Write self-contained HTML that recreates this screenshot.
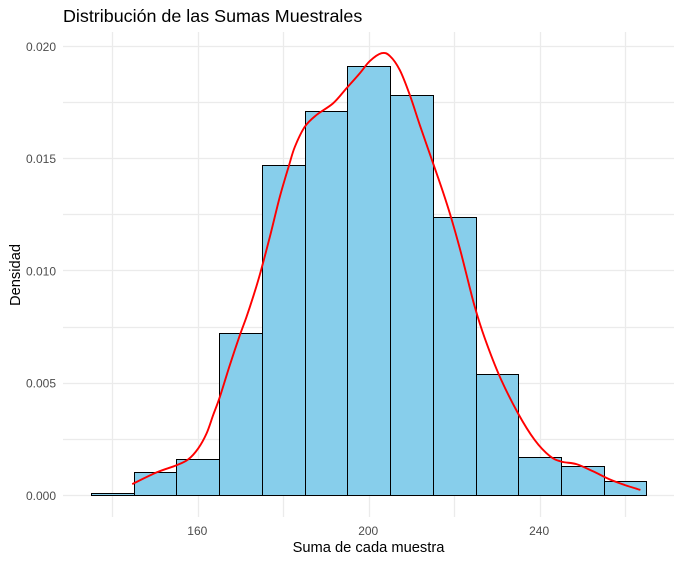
<!DOCTYPE html>
<html lang="es">
<head>
<meta charset="utf-8">
<title>Distribución de las Sumas Muestrales</title>
<style>
html,body{margin:0;padding:0;background:#fff;width:682px;height:562px;overflow:hidden}
svg{display:block}
text{font-family:"Liberation Sans",Arial,sans-serif}
.tick{font-size:12px;fill:#4d4d4d}
.axis-title{font-size:14.7px;fill:#000}
</style>
</head>
<body>
<svg id="chart" xmlns="http://www.w3.org/2000/svg" width="682" height="562" viewBox="0 0 682 562">
  <rect x="0" y="0" width="682" height="562" fill="#ffffff"/>
  <g id="grid"></g>
  <g id="bars"></g>
  <path id="curve" fill="none" stroke="#ff0000" stroke-width="1.9" stroke-linejoin="round" stroke-linecap="butt"/>
  <g id="xticks"></g>
  <g id="yticks"></g>
  <text x="63" y="22" font-size="17.9" fill="#000">Distribución de las Sumas Muestrales</text>
  <text class="axis-title" x="368.5" y="552" text-anchor="middle">Suma de cada muestra</text>
  <text class="axis-title" transform="translate(20,275) rotate(-90)" text-anchor="middle">Densidad</text>
</svg>
<script>
const binCenters = [140, 150, 160, 170, 180, 190, 200, 210, 220, 230, 240, 250, 260];
const binDensity = [0.0001, 0.00102, 0.0016, 0.00722, 0.0147, 0.0171, 0.0191, 0.0178, 0.0124, 0.0054, 0.0017, 0.0013, 0.0006];
const binWidth = 10;
const curveX = [144.54, 150.25, 154.92, 157.64, 159.98, 161.94, 163.49, 165.05, 167.39, 169.73, 171.3, 172.84, 174.41, 176.75, 179.09, 181.26, 182.6, 184.94, 187.67, 191.56, 194.69, 197.8, 200.14, 202.88, 204.82, 207.16, 209.5, 211.84, 214.81, 217.29, 219.25, 221.19, 222.6, 224.7, 227.04, 230.55, 234.83, 238.74, 242.25, 244.98, 248.49, 252.37, 256.28, 259.79, 263.46];
const curveY = [0.0005, 0.00102, 0.00134, 0.0016, 0.00209, 0.00276, 0.00358, 0.00439, 0.00581, 0.00714, 0.00796, 0.00885, 0.00984, 0.01152, 0.01331, 0.01472, 0.01553, 0.01643, 0.01695, 0.01747, 0.01814, 0.01881, 0.01935, 0.0197, 0.01958, 0.01895, 0.01784, 0.0165, 0.01487, 0.0135, 0.01232, 0.01101, 0.00996, 0.0084, 0.007, 0.00529, 0.00365, 0.00246, 0.00175, 0.0015, 0.00139, 0.00107, 0.00071, 0.00046, 0.00024];
const xMajorTicks = [160, 200, 240];
const xMinorTicks = [140, 180, 220, 260];
const yMajorTicks = [0, 0.005, 0.01, 0.015, 0.02];
const yMinorTicks = [0.0025, 0.0075, 0.0125, 0.0175];

const NS = 'http://www.w3.org/2000/svg';
const panel = {left: 63, right: 674, top: 32, bottom: 517};
function xScale(v) { return 198.3 + (v - 160) * 4.273; }
function yScale(v) { return 495.3 - v * 22440; }
function snap(p) { return Math.round(p - 0.5) + 0.5; }
function make(tag, attrs, parent) {
  const el = document.createElementNS(NS, tag);
  for (const k in attrs) el.setAttribute(k, attrs[k]);
  parent.appendChild(el);
  return el;
}

const grid = document.getElementById('grid');
xMinorTicks.concat(xMajorTicks).forEach(function (t) {
  const p = snap(xScale(t));
  const line = make('line', {x1: p, x2: p, y1: panel.top, y2: panel.bottom, stroke: '#ebebeb', 'stroke-width': 1.3}, grid);
  
  
});
yMinorTicks.concat(yMajorTicks).forEach(function (t) {
  const p = snap(yScale(t));
  const line = make('line', {x1: panel.left, x2: panel.right, y1: p, y2: p, stroke: '#ebebeb', 'stroke-width': 1.3}, grid);
  
  
});

const bars = document.getElementById('bars');
binCenters.forEach(function (c, i) {
  const x0 = snap(xScale(c - binWidth / 2));
  const x1 = snap(xScale(c + binWidth / 2));
  const y0 = snap(yScale(binDensity[i]));
  const y1 = snap(yScale(0));
  const rect = make('rect', {x: x0, y: y0, width: x1 - x0, height: y1 - y0, fill: '#87ceeb', stroke: '#000000', 'stroke-width': 1}, bars);
  
  
});

const pts = curveX.map(function (v, i) { return [xScale(v), yScale(curveY[i])]; });
let d = 'M' + pts[0][0].toFixed(2) + ' ' + pts[0][1].toFixed(2);
for (let i = 0; i < pts.length - 1; i++) {
  const p0 = pts[Math.max(i - 1, 0)];
  const p1 = pts[i];
  const p2 = pts[i + 1];
  const p3 = pts[Math.min(i + 2, pts.length - 1)];
  const c1x = p1[0] + (p2[0] - p0[0]) / 6;
  const c1y = p1[1] + (p2[1] - p0[1]) / 6;
  const c2x = p2[0] - (p3[0] - p1[0]) / 6;
  const c2y = p2[1] - (p3[1] - p1[1]) / 6;
  d += 'C' + c1x.toFixed(2) + ' ' + c1y.toFixed(2) + ' ' + c2x.toFixed(2) + ' ' + c2y.toFixed(2) + ' ' + p2[0].toFixed(2) + ' ' + p2[1].toFixed(2);
}
document.getElementById('curve').setAttribute('d', d);

const xticks = document.getElementById('xticks');
xMajorTicks.forEach(function (t) {
  const label = make('text', {class: 'tick', x: xScale(t) - 1, y: 535, 'text-anchor': 'middle'}, xticks);
  
  
  label.textContent = String(t);
});
const yticks = document.getElementById('yticks');
yMajorTicks.forEach(function (t) {
  const label = make('text', {class: 'tick', x: 56, y: yScale(t) + 4.5, 'text-anchor': 'end'}, yticks);
  
  
  label.textContent = t.toFixed(3);
});
</script>
</body>
</html>
